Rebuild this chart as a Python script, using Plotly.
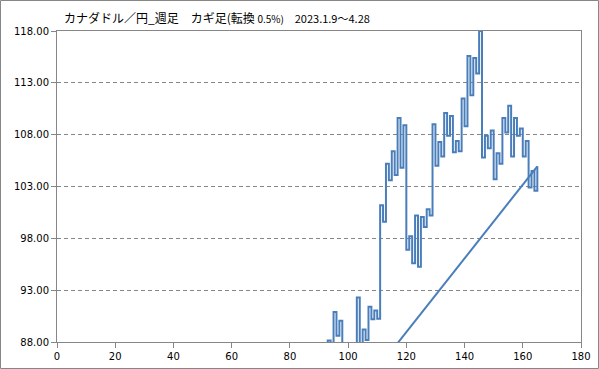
import plotly.graph_objects as go

# Kagi reversal index (x) and reversal levels (y)
kagi_x = list(range(92, 166))
kagi_levels = [
    86.0, 88.15, 87.5, 90.9, 88.6, 90.05, 87.6, 87.9, 87.0, 87.85,   # 92-101
    86.8, 92.3, 87.6, 89.2, 88.2, 91.4, 90.2, 91.05, 90.25, 101.2,   # 102-111
    99.6, 105.2, 103.6, 106.4, 104.1, 109.6, 104.8, 108.9, 96.9, 98.2,  # 112-121
    95.6, 100.2, 95.25, 100.05, 99.1, 100.8, 100.2, 109.0, 105.0, 107.3,  # 122-131
    105.9, 110.1, 107.9, 109.8, 106.3, 107.4, 106.4, 111.5, 108.8, 115.6,  # 132-141
    111.8, 115.4, 113.9, 118.0, 105.8, 107.9, 106.7, 108.4, 103.7, 106.2,  # 142-151
    105.2, 109.6, 108.2, 110.8, 105.9, 109.6, 107.9, 108.6, 105.9, 107.4,  # 152-161
    102.9, 104.5, 102.6, 104.95,                                        # 162-165
]

# Closing straight segment (last point back toward the series start)
diag_x = [0, 165]
diag_y = [46.3, 104.95]

y_ticks = [88, 93, 98, 103, 108, 113, 118]
x_ticks = [0, 20, 40, 60, 80, 100, 120, 140, 160, 180]

title_main = "カナダドル／円_週足　カギ足(転換 "
title_pct = "0.5%)"
title_period = "2023.1.9〜4.28"

LINE = "#4A7EBB"
GREY = "#868686"

W, H = 599, 369
ML, MR, MT, MB = 57, 18, 31, 27
PW, PH = W - ML - MR, H - MT - MB

fig = go.Figure()
fig.add_trace(go.Scatter(x=diag_x, y=diag_y, mode="lines",
                         line=dict(color=LINE, width=2), hoverinfo="skip"))
fig.add_trace(go.Scatter(x=kagi_x, y=kagi_levels, mode="lines",
                         line=dict(color=LINE, width=2, shape="hv")))

fig.update_layout(
    width=W, height=H,
    margin=dict(l=ML, r=MR, t=MT, b=MB),
    paper_bgcolor="white", plot_bgcolor="white",
    showlegend=False,
    font=dict(family="DejaVu Sans", size=10, color="#000000"),
    xaxis=dict(range=[0, 180], tickvals=x_ticks, ticks="outside", ticklen=5,
               tickcolor=GREY, showline=True, linecolor=GREY, linewidth=1,
               mirror=True, showgrid=False, zeroline=False, automargin=False,
               tickfont=dict(family="DejaVu Sans", size=10)),
    yaxis=dict(range=[88, 118], tickvals=y_ticks, tickformat=".2f",
               ticks="outside", ticklen=5, tickcolor=GREY, showline=True,
               linecolor=GREY, linewidth=1, mirror=True, showgrid=True,
               gridcolor=GREY, griddash="4px,3px", gridwidth=1,
               zeroline=False, automargin=False,
               tickfont=dict(family="DejaVu Sans", size=10)),
    annotations=[dict(
        xref="paper", yref="paper",
        x=(62 - ML) / PW, y=(H - MB - 17) / PH,
        xanchor="left", yanchor="middle", showarrow=False,
        text=(title_main + "<span style='font-size:10px'>" + title_pct +
              "</span>\u00a0\u00a0\u00a0 <span style='font-size:11px'>" + title_period + "</span>"),
        font=dict(family="Noto Sans CJK JP", size=12, color="#000000"),
    )],
    shapes=[dict(type="rect", xref="paper", yref="paper",
                 x0=(0.5 - ML) / PW, x1=(W - 0.5 - ML) / PW,
                 y0=(H - MB - (H - 0.5)) / PH, y1=(H - MB - 0.5) / PH,
                 line=dict(color=GREY, width=1), layer="below")],
)

fig.write_html("out.html", config={"displayModeBar": False},
               post_script="document.body.style.margin='0';document.body.style.padding='0';")
